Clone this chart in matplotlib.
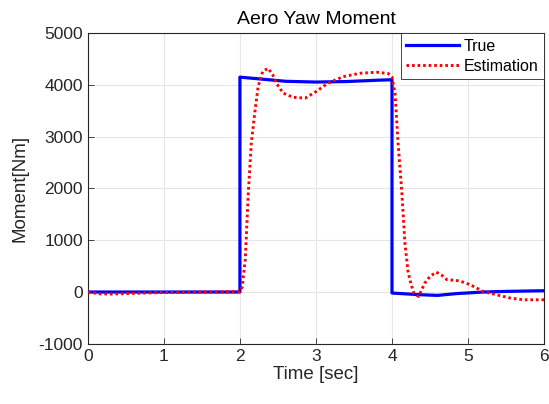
import matplotlib
matplotlib.use("Agg")
import matplotlib.pyplot as plt

plt.rcParams['font.family'] = ['Liberation Sans', 'DejaVu Sans']
plt.rcParams['axes.unicode_minus'] = False

# values
true_t = [0.0, 1.0, 1.99, 2.0, 2.0, 2.3, 2.6, 3.0, 3.4, 3.8, 4.0, 4.0,
          4.37, 4.6, 4.85, 5.2, 5.5, 6.0]
true_v = [0, 0, 0, 0, 4150, 4110, 4070, 4055, 4065, 4090, 4100, -20,
          -52, -65, -30, 0, 12, 25]

est_t = [0.0, 0.15, 0.3, 0.6, 1.0, 1.5, 2.0, 2.03, 2.07, 2.11, 2.15, 2.2,
         2.24, 2.3, 2.37, 2.43, 2.48, 2.57, 2.7, 2.86, 3.0, 3.16, 3.36,
         3.58, 3.8, 3.95, 4.0, 4.04, 4.08, 4.13, 4.17, 4.21, 4.25, 4.29,
         4.35, 4.43, 4.5, 4.58, 4.65, 4.72, 4.89, 5.03, 5.2, 5.38, 5.55,
         5.73, 6.0]
est_v = [0, -35, -40, -25, -10, 0, 10, 100, 620, 1900, 2880, 3520,
         3970, 4260, 4320, 4200, 4030, 3840, 3760, 3745, 3870, 4035, 4160,
         4225, 4245, 4220, 4150, 3840, 2880, 1910, 950, 400, 150, -30,
         -85, 170, 300, 385, 330, 240, 215, 140, 10, -55, -115,
         -150, -150]

xticks = [0, 1, 2, 3, 4, 5, 6]
yticks = [-1000, 0, 1000, 2000, 3000, 4000, 5000]

fig = plt.figure(figsize=(5.49, 4.04), dpi=100)
ax = fig.add_axes([0.160, 0.149, 0.831, 0.769])

ax.plot(true_t, true_v, color='#0000ff', lw=2.3, label='True', zorder=3)
ax.plot(est_t, est_v, color='#ff0000', lw=2.1, linestyle=(0, (0.9, 1.0)),
        label='Estimation', zorder=4)

ax.set_xlim(0, 6)
ax.set_ylim(-1000, 5000)
ax.set_xticks(xticks)
ax.set_yticks(yticks)
ax.tick_params(direction='in', labelsize=12.5, colors='#262626', length=4, width=0.6)
ax.grid(True, color='#e6e6e6', lw=0.8)
ax.set_axisbelow(True)
for s in ax.spines.values():
    s.set_color('#262626')
    s.set_linewidth(0.8)

ax.set_title('Aero Yaw Moment', fontsize=14, color='black', pad=6.5)
ax.set_xlabel('Time [sec]', fontsize=13.5, color='#262626', labelpad=2)
ax.set_ylabel('Moment[Nm]', fontsize=13.5, color='#262626', labelpad=7)

leg = ax.legend(loc='upper right', borderaxespad=0, fontsize=11.5, handlelength=3.3,
                handletextpad=0.3, labelspacing=0.3, fancybox=False,
                edgecolor='#262626', framealpha=1, borderpad=0.35)
leg.get_frame().set_linewidth(0.6)

fig.savefig('out.png', dpi=100)
